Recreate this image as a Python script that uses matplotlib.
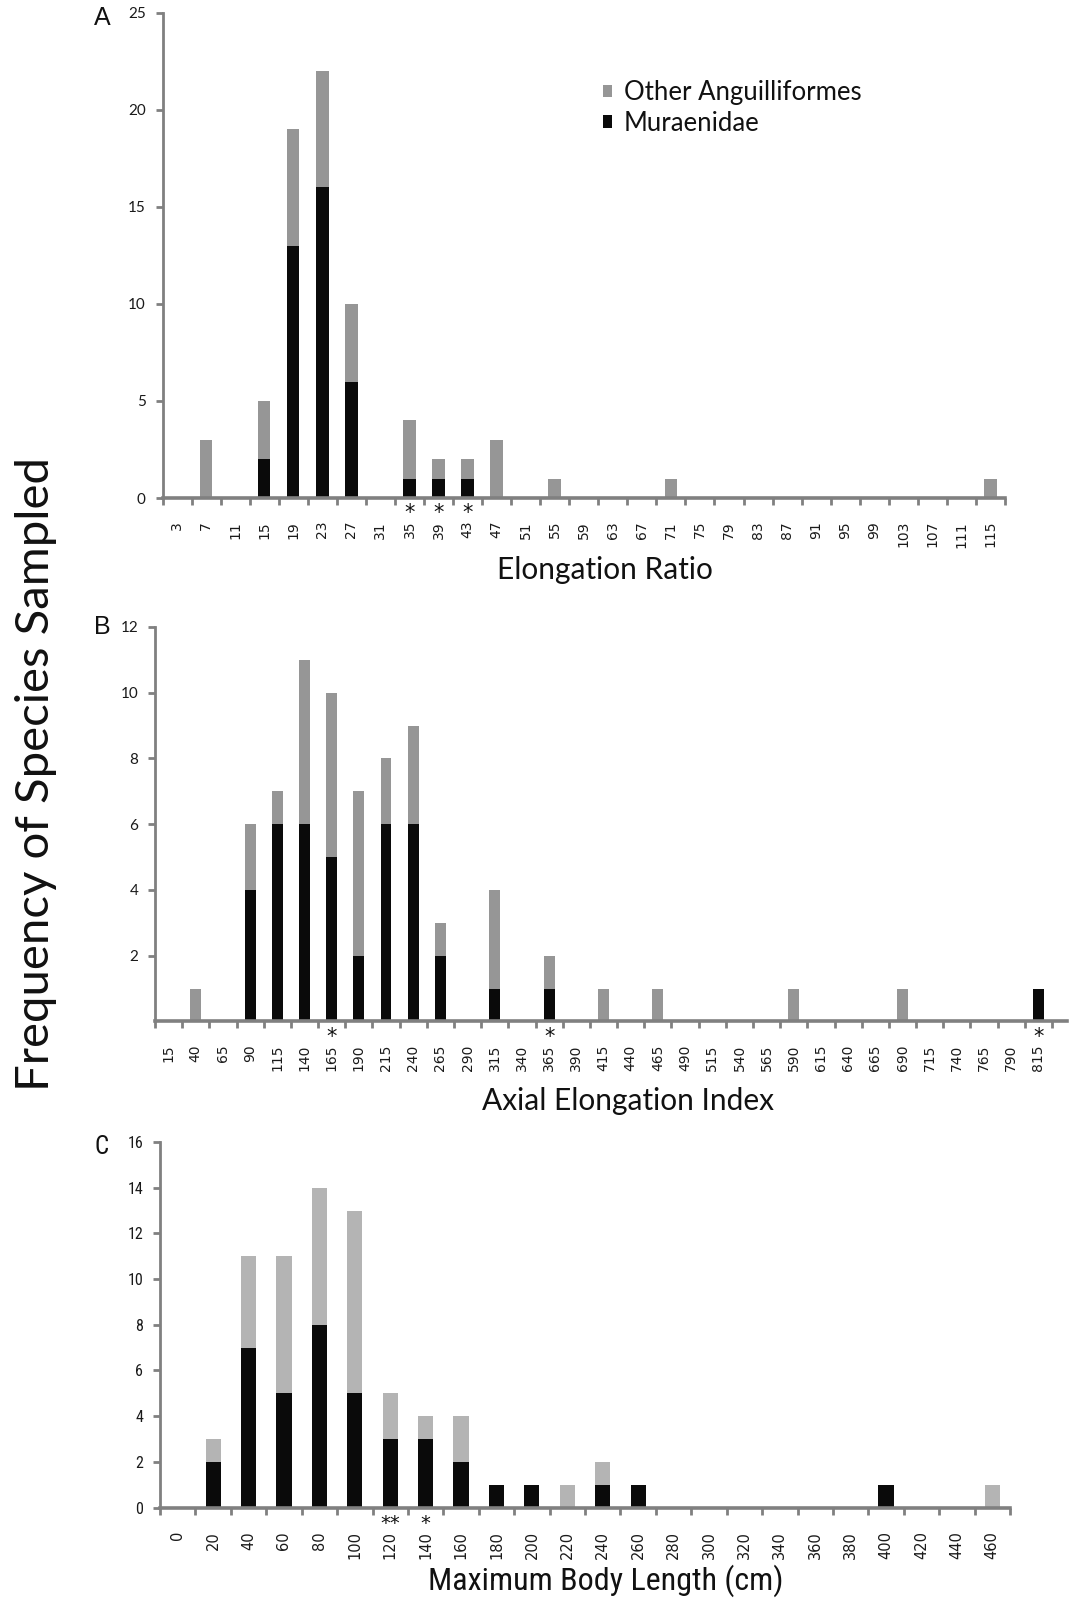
import matplotlib
matplotlib.use("Agg")
import matplotlib.pyplot as plt
from matplotlib import font_manager
import numpy as np

# ---------------- data ----------------
er_labels = list(range(3, 116, 4))  # Elongation Ratio bins
er_muraenidae = [0, 0, 0, 2, 13, 16, 6, 0, 1, 1, 1, 0, 0, 0, 0, 0, 0, 0, 0, 0, 0, 0, 0, 0, 0, 0, 0, 0, 0]
er_other = [0, 3, 0, 3, 6, 6, 4, 0, 3, 1, 1, 3, 0, 1, 0, 0, 0, 1, 0, 0, 0, 0, 0, 0, 0, 0, 0, 0, 1]
er_starred = [35, 39, 43]

aei_labels = list(range(15, 816, 25))  # Axial Elongation Index bins
aei_muraenidae = [0, 0, 0, 4, 6, 6, 5, 2, 6, 6, 2, 0, 1, 0, 1, 0, 0, 0, 0, 0, 0, 0, 0, 0, 0, 0, 0, 0, 0, 0, 0, 0, 1]
aei_other = [0, 1, 0, 2, 1, 5, 5, 5, 2, 3, 1, 0, 3, 0, 1, 0, 1, 0, 1, 0, 0, 0, 0, 1, 0, 0, 0, 1, 0, 0, 0, 0, 0]
aei_starred = [165, 365, 815]

mbl_labels = list(range(0, 461, 20))  # Maximum Body Length bins (cm)
mbl_muraenidae = [0, 2, 7, 5, 8, 5, 3, 3, 2, 1, 1, 0, 1, 1, 0, 0, 0, 0, 0, 0, 1, 0, 0, 0]
mbl_other = [0, 1, 4, 6, 6, 8, 2, 1, 2, 0, 0, 1, 1, 0, 0, 0, 0, 0, 0, 0, 0, 0, 0, 1]
mbl_star_bins = [120, 140]
mbl_star_text = ["**", "*"]

series_names = ["Other Anguilliformes", "Muraenidae"]

# ---------------- style ----------------
W, H = 1080, 1602
fig = plt.figure(figsize=(W / 100, H / 100), dpi=100)
fig.patch.set_facecolor("white")

BLACK = "#0a0a0a"
GRAY_AB = "#969696"
GRAY_C = "#b4b4b4"
AXC = "#808080"
HUM = ["Lato", "DejaVu Sans"]

_installed = {f.name for f in font_manager.fontManager.ttflist}
_narrow_pref = ["Liberation Sans Narrow", "Roboto Condensed", "Open Sans Condensed",
                "Arial Narrow", "DejaVu Sans"]
NARROW = [f for f in _narrow_pref if f in _installed] or ["DejaVu Sans"]
NARROW = [NARROW[0], "DejaVu Sans"] if NARROW[0] != "DejaVu Sans" else ["DejaVu Sans"]


def px_axes(left, right, top, bottom):
    return fig.add_axes([left / W, 1 - bottom / H, (right - left) / W, (bottom - top) / H])


def style_axes(ax, labels, xlim, ylim, yticks, ytick_labels, xfs, ytickfont, ytfs, ypad, xpad,
               ystretch="normal"):
    n = len(labels)
    ax.set_xlim(*xlim)
    ax.set_ylim(*ylim)
    for s in ["top", "right"]:
        ax.spines[s].set_visible(False)
    ax.spines["bottom"].set_color(AXC)
    ax.spines["bottom"].set_linewidth(2.6)
    ax.spines["left"].set_color(AXC)
    ax.spines["left"].set_linewidth(2.0)
    ax.set_xticks(np.arange(n))
    ax.set_xticklabels([str(v) for v in labels], rotation=90, fontsize=xfs,
                       family=["DejaVu Sans"], color="#1a1a1a")
    ax.set_xticks(np.arange(-0.5, n, 1.0), minor=True)
    ax.tick_params(axis="x", which="major", length=0, pad=xpad)
    ax.tick_params(axis="x", which="minor", length=5, width=2, color=AXC, direction="out")
    ax.set_yticks(yticks)
    ax.set_yticklabels(ytick_labels, fontsize=ytfs, family=ytickfont, color="#1a1a1a",
                       fontstretch=ystretch)
    ax.tick_params(axis="y", length=5, width=2, color=AXC, pad=ypad)
    ax.set_facecolor("none")


def stars(ax, labels, starred, texts, fs, below_px):
    fs_px = fs * 100 / 72
    for lab, t in zip(starred, texts):
        i = labels.index(lab)
        ax.annotate(t, xy=(i, 0), xycoords="data",
                    xytext=(0, -(below_px + 0.58 * fs_px)), textcoords="offset pixels",
                    ha="center", va="baseline", fontsize=fs, family=["DejaVu Sans"],
                    color="#111111", annotation_clip=False)


# ---------------- Panel A ----------------
axA = px_axes(162.5, 1005, 12.7, 498)
xA = np.arange(len(er_labels))
bA_m = axA.bar(xA, er_muraenidae, width=0.43, color=BLACK, linewidth=0)
bA_o = axA.bar(xA, er_other, width=0.43, bottom=er_muraenidae, color=GRAY_AB, linewidth=0)
style_axes(axA, er_labels, (-0.5, 28.5), (0, 25), [0, 5, 10, 15, 20, 25],
           ["0", "5", "10", "15", "20", "25"], 10, HUM, 11, 7, 16.5)
stars(axA, er_labels, er_starred, ["*"] * len(er_starred), 15, 9)
leg = axA.legend([bA_o, bA_m], series_names, loc="upper left",
                 bbox_to_anchor=(603 / W, 1 - 80 / H), bbox_transform=fig.transFigure,
                 frameon=False, prop={"family": HUM, "size": 18.5},
                 handlelength=0.36, handleheight=0.36, handletextpad=0.45,
                 labelspacing=0.22, borderpad=0, borderaxespad=0)
for t in leg.get_texts():
    t.set_color("#111111")

# ---------------- Panel B ----------------
axB = px_axes(155, 1067, 627, 1021.5)
xB = np.arange(len(aei_labels))
axB.bar(xB, aei_muraenidae, width=0.40, color=BLACK, linewidth=0)
axB.bar(xB, aei_other, width=0.40, bottom=aei_muraenidae, color=GRAY_AB, linewidth=0)
style_axes(axB, aei_labels, (-0.5, 33.05), (0, 12), [2, 4, 6, 8, 10, 12],
           ["2", "4", "6", "8", "10", "12"], 10, HUM, 11, 7, 16.5)
stars(axB, aei_labels, aei_starred, ["*"] * len(aei_starred), 15, 9)

# ---------------- Panel C ----------------
axC = px_axes(160, 1010, 1142, 1507.5)
xC = np.arange(len(mbl_labels))
axC.bar(xC, mbl_muraenidae, width=0.43, color=BLACK, linewidth=0)
axC.bar(xC, mbl_other, width=0.43, bottom=mbl_muraenidae, color=GRAY_C, linewidth=0)
style_axes(axC, mbl_labels, (-0.5, 23.5), (0, 16), list(range(0, 17, 2)),
           [str(v) for v in range(0, 17, 2)], 10.5, NARROW, 11.5, 7, 17,
           ystretch="condensed")
stars(axC, mbl_labels, mbl_star_bins, mbl_star_text, 14, 10)

# ---------------- texts ----------------
fig.text(605 / W, 1 - 570 / H, "Elongation Ratio", ha="center", va="center",
         fontsize=21.5, family=HUM, color="#111111")
fig.text(628 / W, 1 - 1101 / H, "Axial Elongation Index", ha="center", va="center",
         fontsize=21.5, family=HUM, color="#111111")
fig.text(606 / W, 1 - 1581 / H, "Maximum Body Length (cm)", ha="center", va="center",
         fontsize=20 if NARROW[0] == "DejaVu Sans" else 23, family=NARROW,
         fontstretch="condensed", color="#111111")
fig.text(36 / W, 1 - 774 / H, "Frequency of Species Sampled", ha="center", va="center",
         rotation=90, fontsize=34, family=HUM, color="#111111")
fig.text(102 / W, 1 - 18 / H, "A", ha="center", va="center", fontsize=18,
         family=["Liberation Sans", "DejaVu Sans"], color="#111111")
fig.text(102 / W, 1 - 627 / H, "B", ha="center", va="center", fontsize=18,
         family=["Liberation Sans", "DejaVu Sans"], color="#111111")
fig.text(102 / W, 1 - 1147 / H, "C", ha="center", va="center", fontsize=18,
         family=NARROW, fontstretch="condensed", color="#111111")

fig.savefig("out.png", dpi=100, facecolor="white")
